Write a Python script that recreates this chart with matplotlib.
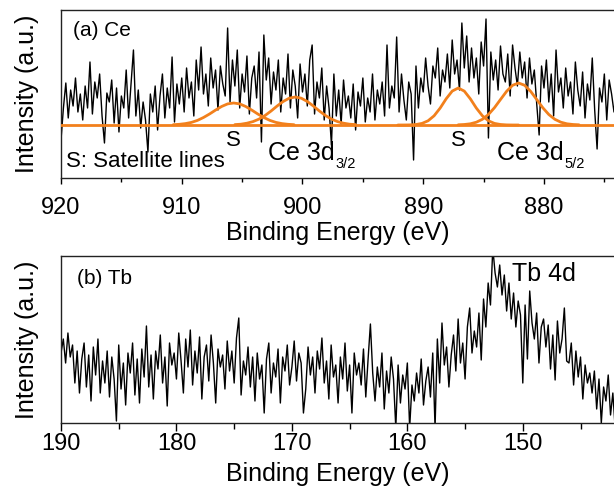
import numpy as np
import matplotlib
matplotlib.use("Agg")
import matplotlib.pyplot as plt
from matplotlib.ticker import MultipleLocator

plt.rcParams['font.family'] = ['Liberation Sans', 'DejaVu Sans']

# (a) Ce 3d spectrum, 920 -> 874 eV, step 0.2 eV (intensity, a.u.)
ce_start, ce_stop = 920.0, 874.0
ce_counts = [
    38, 70, 95, 60, 88, 72, 100, 66, 84, 58,
    92, 70, 116, 64, 96, 80, 104, 62, 35, 85,
    76, 98, 55, 90, 46, 82, 70, 108, 60, 94,
    128, 62, 88, 50, 76, 58, 26, 84, 66, 92,
    48, 82, 104, 60, 90, 70, 121, 56, 94, 74,
    100, 66, 110, 80, 96, 62, 118, 88, 131, 84,
    104, 72, 120, 90, 108, 68, 112, 94, 82, 150,
    76, 118, 92, 128, 70, 104, 86, 122, 64, 100,
    112, 80, 126, 36, 143, 98, 120, 74, 106, 88,
    118, 66, 100, 84, 124, 70, 108, 92, 60, 114,
    86, 104, 72, 118, 133, 64, 96, 80, 110, 58,
    92, 70, 33, 104, 62, 88, 54, 98, 70, 82,
    60, 94, 48, 86, 72, 100, 56, 80, 66, 104,
    58, 88, 74, 96, 62, 133, 70, 92, 80, 141,
    66, 104, 78, 58, 96, 84, 18, 112, 70, 100,
    86, 120, 92, 74, 112, 100, 130, 82, 108, 96,
    124, 90, 138, 104, 118, 88, 155, 110, 142, 96,
    130, 100, 120, 84, 136, 112, 159, 40, 126, 98,
    118, 88, 132, 104, 96, 124, 82, 133, 110, 92,
    126, 100, 116, 80, 120, 94, 108, 74, 43, 112,
    90, 118, 76, 104, 62, 128, 86, 100, 70, 110,
    82, 96, 64, 116, 88, 72, 106, 60, 94, 78,
    120, 68, 29, 90, 76, 104, 58, 98, 84, 66,
    88,
]

# fitted components: centre (eV) and height above baseline sampled every 0.5 eV, -5..+5 eV
baseline = 53
fit_centres = [905.7, 900.6, 887.1, 882.1]
fit_heights = [
    [0.3, 0.7, 1.4, 2.6, 4.6, 7.5, 11.0, 14.9, 18.5, 21.1, 22.0,
     21.1, 18.5, 14.9, 11.0, 7.5, 4.6, 2.6, 1.4, 0.7, 0.3],
    [0.4, 0.8, 1.8, 3.4, 5.9, 9.5, 14.0, 19.0, 23.5, 26.8, 28.0,
     26.8, 23.5, 19.0, 14.0, 9.5, 5.9, 3.4, 1.8, 0.8, 0.4],
    [0.0, 0.0, 0.1, 0.5, 1.6, 4.2, 9.2, 16.9, 26.2, 33.9, 37.0,
     33.9, 26.2, 16.9, 9.2, 4.2, 1.6, 0.5, 0.1, 0.0, 0.0],
    [0.2, 0.5, 1.2, 2.8, 5.7, 10.5, 17.3, 25.5, 33.6, 39.7, 42.0,
     39.7, 33.6, 25.5, 17.3, 10.5, 5.7, 2.8, 1.2, 0.5, 0.2],
]
fit_step = 0.5

# (b) Tb 4d spectrum, 190 -> 142 eV, step 0.2 eV
tb_start, tb_stop = 190.0, 142.0
tb_counts = [
    70, 84, 60, 90, 66, 78, 40, 72, 30, 64,
    80, 36, 68, 22, 76, 48, 84, 30, 62, 40,
    72, 26, 66, 44, 2, 78, 34, 60, 18, 70,
    50, 80, 28, 64, 20, 74, 46, 97, 36, 68,
    24, 72, 54, 88, 40, 66, 17, 80, 58, 70,
    44, 90, 62, 30, 84, 56, 93, 38, 72, 50,
    86, 24, 66, 78, 42, 88, 60, 20, 74, 56,
    68, 34, 82, 52, 72, 40, 85, 105, 28, 62,
    48, 76, 36, 66, 22, 70, 44, 58, 10, 64,
    80, 30, 60, 46, 74, 20, 66, 52, 78, 38,
    56, 82, 42, 70, 60, 10, 34, 76, 48, 66,
    30, 72, 54, 85, 40, 62, 24, 78, 46, 58,
    20, 66, 44, 80, 32, 58, 10, 70, 48, 60,
    38, 74, 26, 64, 99, 50, 22, 56, 36, 70,
    14, 52, 30, 66, 44, -5, 58, 20, 48, 34,
    60, -5, 38, 22, 50, 30, 64, 18, 42, 56,
    26, 70, -5, 84, 40, 100, 58, 76, 36, 68,
    88, 52, 104, 60, 80, 44, 96, 115, 70, 92,
    76, 110, 63, 124, 96, 140, 118, 175, 150, 136,
    158, 128, 148, 112, 140, 104, 130, 96, 122, 108,
    40, 118, 64, 132, 100, 84, 110, 60, 96, 104,
    76, 98, 54, 88, 43, 102, 70, 84, 115, 62,
    60, 80, 38, 72, 46, 66, 24, 58, 40, 50,
    30, 52, 14, 44, 0, 36, 22, 48, 8, 30,
    -5,
]

orange = '#F2801C'

fig = plt.figure(figsize=(6.14, 4.91), dpi=100)
ax1 = fig.add_axes([61/614, 1 - 178/491, 1 - 61/614, 168/491])
ax2 = fig.add_axes([61/614, 1 - 423/491, 1 - 61/614, 167/491])

# --- (a) Ce
e_ce = np.linspace(ce_start, ce_stop, len(ce_counts))
ax1.plot(e_ce, ce_counts, color='black', lw=1.0, zorder=2)
ax1.axhline(baseline, color=orange, lw=2.0, zorder=3)
for c, h in zip(fit_centres, fit_heights):
    n = len(h)
    e = c + fit_step * (np.arange(n) - n // 2)
    ax1.plot(e, baseline + np.array(h), color=orange, lw=2.0, zorder=3,
             solid_capstyle='round')
ax1.set_xlim(920, 874.2)
ax1.set_ylim(0, 168)

ax1.text(919.0, 147, '(a) Ce', fontsize=15, va='center', ha='left')
ax1.text(919.6, 11, 'S: Satellite lines', fontsize=16, va='baseline', ha='left')
for c in (fit_centres[0], fit_centres[2]):
    ax1.text(c, 38, 'S', fontsize=16, va='center', ha='center')
for x0, sub in ((902.85, '3/2'), (883.9, '5/2')):
    t = ax1.text(x0, 18, 'Ce 3d', fontsize=18, va='baseline', ha='left')
    ax1.annotate(sub, xy=(1, 0), xycoords=t, xytext=(0.8, -2.0),
                 textcoords='offset points', fontsize=10.5, va='baseline', ha='left')

# --- (b) Tb
e_tb = np.linspace(tb_start, tb_stop, len(tb_counts))
ax2.plot(e_tb, tb_counts, color='black', lw=1.0)
ax2.set_xlim(190, 142.1)
ax2.set_ylim(0, 167)
ax2.text(188.6, 145, '(b) Tb', fontsize=15, va='center', ha='left')
ax2.text(150.9, 149, 'Tb 4d', fontsize=18, va='center', ha='left')

for ax, tl, pad, lp in ((ax1, 4, 10, 1), (ax2, 5.5, 2, 5)):
    ax.xaxis.set_major_locator(MultipleLocator(10))
    ax.xaxis.set_minor_locator(MultipleLocator(5))
    ax.tick_params(axis='x', which='major', direction='out', length=tl, width=1,
                   labelsize=17, pad=pad)
    ax.tick_params(axis='x', which='minor', direction='out', length=tl - 1, width=1)
    ax.set_yticks([])
    ax.set_ylabel('Intensity (a.u.)', fontsize=18, labelpad=16)
    ax.set_xlabel('Binding Energy (eV)', fontsize=18, labelpad=lp)
    ax.spines['right'].set_visible(False)
    for s in ax.spines.values():
        s.set_linewidth(1.0)
        s.set_color('#222222')

fig.savefig('out.png', dpi=100)
